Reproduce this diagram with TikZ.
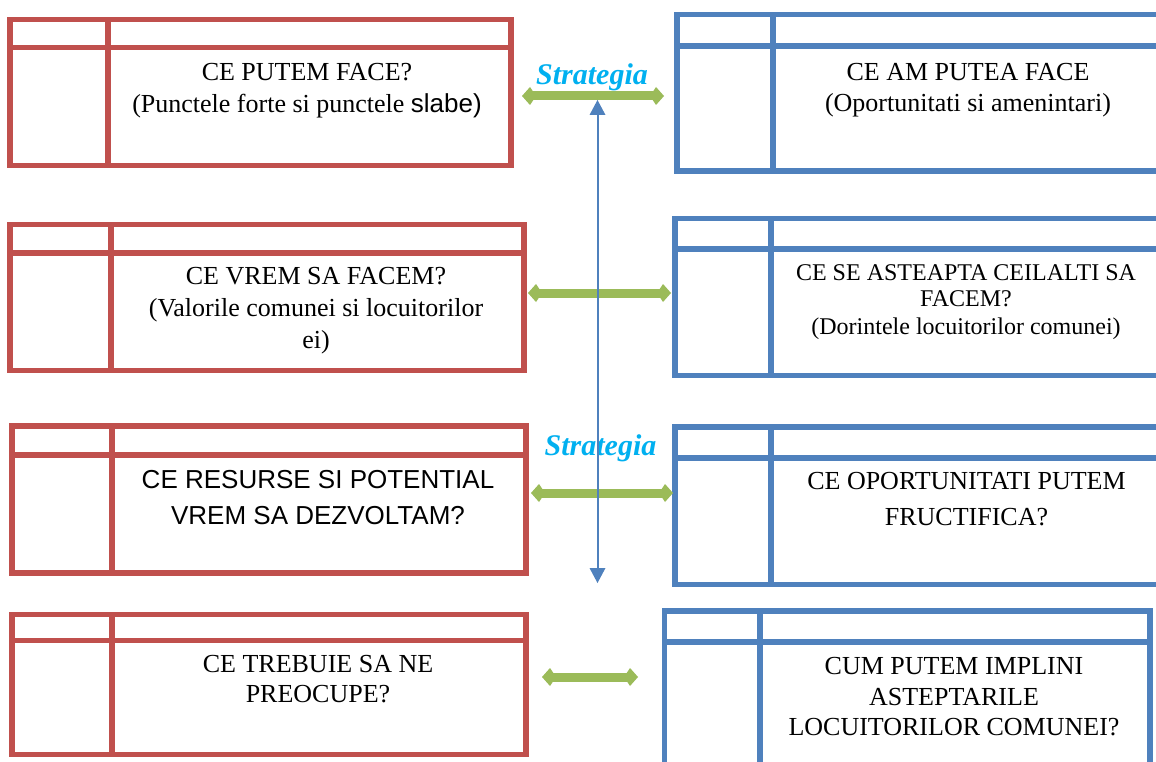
\documentclass[tikz,border=0pt]{standalone}
\usepackage{fontspec}
\setmainfont{Liberation Serif}
\newfontfamily\arialfont{Liberation Sans}
\usetikzlibrary{arrows.meta,fit}
\definecolor{wred}{HTML}{C0504D}
\definecolor{wblue}{HTML}{4F81BD}
\definecolor{wgreen}{HTML}{9BBB59}
\definecolor{wcyan}{HTML}{00B0F0}
\newcommand\swotbox[8]{%
  \node[frame=#2, fit={(#3,#4) (#5,#6)}] (#1) {};
  \draw[rule=#2] (#3,#7) -- (#5,#7);
  \draw[rule=#2] (#8,#4) -- (#8,#6);
}
\begin{document}
\begin{tikzpicture}[x=1pt,y=-1pt,
  frame/.style={draw=#1, line width=5.5pt, inner sep=0pt, outer sep=0pt, rectangle},
  rule/.style={draw=#1, line width=5.5pt},
  txt/.style 2 args={anchor=north, align=center, inner sep=0pt, font=\fontsize{#1}{#2}\selectfont},
  strat/.style={anchor=base, inner sep=0pt, text=wcyan, font=\fontsize{30}{36}\selectfont\bfseries\itshape},
  greenarrow/.style={draw=wgreen, line width=9pt, >={Kite[length=14pt,width=18pt,inset=6pt,line width=0pt]}, <->},
  bluearrow/.style={draw=wblue, line width=2pt, >={Triangle[length=15pt,width=16pt,line width=0pt]}, <->}
]
\clip (0,0) rectangle (1156,762);
\fill[white] (0,0) rectangle (1156,762);

% red boxes
\swotbox{r1}{wred}{10}{19.5}{511}{165.5}{47.5}{108}
\swotbox{r2}{wred}{10}{224.5}{524}{370.5}{253}{111}
\swotbox{r3}{wred}{12}{426}{526}{573}{455}{112}
\swotbox{r4}{wred}{12}{614.5}{526}{754.5}{640.5}{112}
% blue boxes
\swotbox{b1}{wblue}{677}{14.5}{1163}{171}{46}{773}
\swotbox{b2}{wblue}{675}{218.5}{1163}{375.5}{249}{771}
\swotbox{b3}{wblue}{675}{427}{1163}{584.5}{458}{771}
\swotbox{b4}{wblue}{664.5}{611}{1150}{775}{642}{760}

% texts
\node[txt={26}{32}] (t1) at (307,58.6) {\rule{0pt}{22pt}CE PUTEM FACE?\\(Punctele forte si punctele {\arialfont slabe)}};
\node[txt={26}{32}] (t2) at (316,262.6) {\rule{0pt}{22pt}CE VREM SA FACEM?\\(Valorile comunei si locuitorilor\\ei)};
\node[anchor=north, align=center, inner sep=0pt, font=\arialfont\fontsize{26}{36}\selectfont] (t3) at (318,466.3) {\rule{0pt}{22pt}CE RESURSE SI POTENTIAL\\VREM SA DEZVOLTAM?};
\node[txt={26}{30}] (t4) at (318,650.6) {\rule{0pt}{22pt}CE TREBUIE SA NE\\PREOCUPE?};
\node[txt={26}{31}] (t5) at (968,58.6) {\rule{0pt}{22pt}CE AM PUTEA FACE\\(Oportunitati si amenintari)};
\node[txt={24}{26}] (t6) at (966,258) {\rule{0pt}{22pt}CE SE ASTEAPTA CEILALTI SA\\FACEM?\\[2pt](Dorintele locuitorilor comunei)};
\node[txt={26}{36}] (t7) at (966.5,467.6) {\rule{0pt}{22pt}CE OPORTUNITATI PUTEM\\FRUCTIFICA?};
\node[txt={26}{30.5}] (t8) at (954,652.6) {\rule{0pt}{22pt}CUM PUTEM IMPLINI\\ASTEPTARILE\\LOCUITORILOR COMUNEI?};

% green double arrows
\coordinate (g1l) at (522,96);  \coordinate (g1r) at (664,96);
\coordinate (g2l) at (528,293); \coordinate (g2r) at (671,293);
\coordinate (g3l) at (531,493); \coordinate (g3r) at (673,493);
\coordinate (g4l) at (542,677); \coordinate (g4r) at (638,677);
\draw[greenarrow] (g1l) -- (g1r);
\draw[greenarrow] (g2l) -- (g2r);
\draw[greenarrow] (g3l) -- (g3r);
\draw[greenarrow] (g4l) -- (g4r);

% labels
\node[strat] (s1) at (592,85) {Strategia};
\node[strat] (s2) at (600.5,455) {Strategia};

% blue vertical arrow
\coordinate (vtop) at (597.5,100);
\coordinate (vbot) at (597.5,583);
\draw[bluearrow] (vtop) -- (vbot);
\end{tikzpicture}
\end{document}
